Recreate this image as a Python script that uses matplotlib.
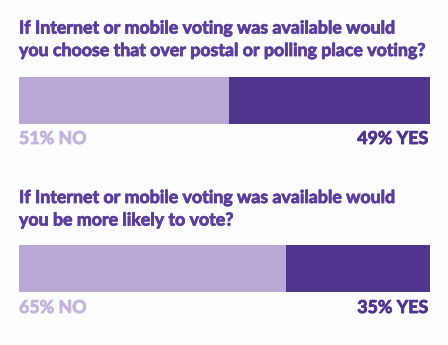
import matplotlib.pyplot as plt
import matplotlib.patheffects as pe

questions = [
    ["If Internet or mobile voting was available would",
     "you choose that over postal or polling place voting?"],
    ["If Internet or mobile voting was available would",
     "you be more likely to vote?"],
]
no_pct = [51, 65]
yes_pct = [49, 35]

light = "#baa8d6"
dark = "#50358f"
title_col = "#5a3f9c"
no_text = "#c4b5de"

W, H = 448, 345
fig = plt.figure(figsize=(W / 100, H / 100), dpi=100)
fig.patch.set_facecolor("#fdfcfe")

bar_left, bar_right = 19, 430
bar_tops = [77, 245]
bar_h = 46.5
title_base = [(33.5, 56), (203, 225.5)]
label_base = [144, 313]
fs = 12.8


def heavy(c):
    # thicken Lato Bold a little
    return [pe.withStroke(linewidth=0.6, foreground=c)]


for q, no, yes, top, tb, lb in zip(questions, no_pct, yes_pct, bar_tops,
                                   title_base, label_base):
    for line, y in zip(q, tb):
        fig.text(bar_left / W, 1 - y / H, line, ha="left", va="baseline",
                 fontsize=fs, fontfamily="Lato", fontweight="bold",
                 color=title_col, path_effects=heavy(title_col))

    ax = fig.add_axes([bar_left / W, 1 - (top + bar_h) / H,
                       (bar_right - bar_left) / W, bar_h / H])
    ax.barh(0, no, left=0, height=1, color=light)
    ax.barh(0, yes, left=no, height=1, color=dark)
    ax.set_xlim(0, no + yes)
    ax.set_ylim(-0.5, 0.5)
    ax.axis("off")

    fig.text(bar_left / W, 1 - lb / H, f"{no}% NO", ha="left", va="baseline",
             fontsize=fs, fontfamily="Lato", fontweight="bold", color=no_text,
             path_effects=heavy(no_text))
    fig.text((bar_right - 2) / W, 1 - lb / H, f"{yes}% YES", ha="right", va="baseline",
             fontsize=fs, fontfamily="Lato", fontweight="bold", color=dark,
             path_effects=heavy(dark))

fig.savefig("out.png", dpi=100, facecolor=fig.get_facecolor())
